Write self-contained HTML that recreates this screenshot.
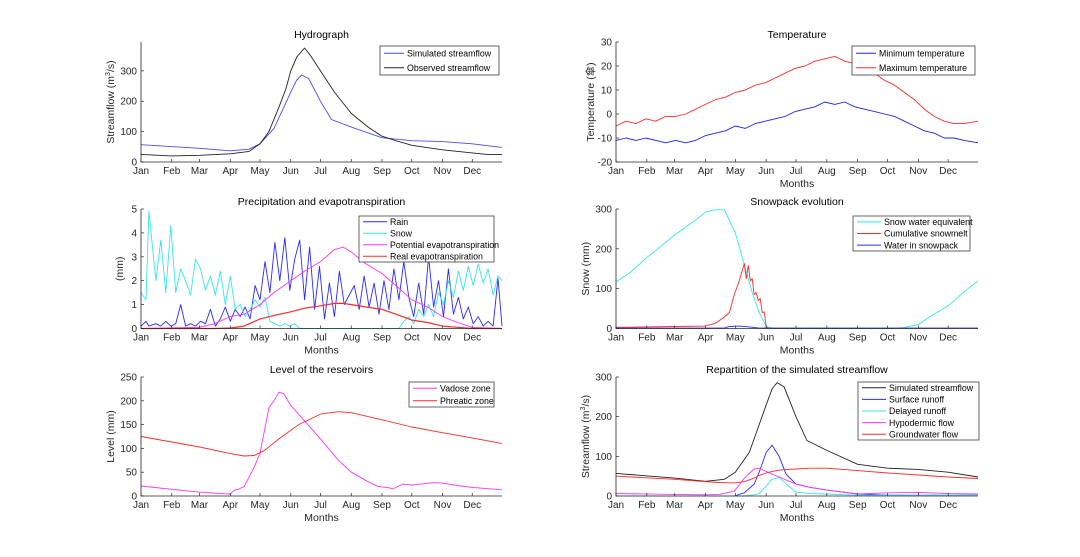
<!DOCTYPE html>
<html><head><meta charset="utf-8">
<style>
body{margin:0;background:#fff;}
svg{display:block;font-family:"Liberation Sans","Noto Sans CJK SC",sans-serif;}
</style></head>
<body>
<svg id="fig" width="1080" height="557" viewBox="0 0 1080 557"></svg>
<script>
// ---------- data ----------
const monthNames=["Jan","Feb","Mar","Apr","May","Jun","Jul","Aug","Sep","Oct","Nov","Dec"];
const monthDays=[1,32,60,91,121,152,182,213,244,274,305,335];

const simDays=[1,60,91,110,121,135,145,152,158,163,170,182,193,213,244,274,305,335,365];
const simVals=[57,45,37,42,60,110,180,230,270,286,275,200,140,115,80,70,67,60,48];
const obsDays=[1,32,60,91,110,121,130,140,147,152,158,163,166,172,182,196,213,230,244,258,274,305,335,350,365];
const obsVals=[25,20,22,27,35,60,100,180,240,300,345,365,375,350,300,230,160,115,85,70,55,40,30,25,25];

const tDays=[1,11,21,31,41,51,61,71,81,91,101,111,121,131,141,151,161,171,181,191,201,211,221,231,241,251,261,271,281,291,301,311,321,331,341,351,365];
const tMin=[-11,-10,-11,-10,-11,-12,-11,-12,-11,-9,-8,-7,-5,-6,-4,-3,-2,-1,1,2,3,5,4,5,3,2,1,0,-1,-3,-5,-7,-8,-10,-10,-11,-12];
const tMax=[-5,-3,-4,-2,-3,-1,-1,0,2,4,6,7,9,10,12,13,15,17,19,20,22,23,24,22,21,19,17,14,12,9,6,2,-1,-3,-4,-4,-3];

const pDays=[1,6,9,16,21,26,31,36,41,46,51,56,61,66,71,76,81,86,91,96,101,106,111,116,121,126,131,136,141,146,151,156,161,166,171,176,181,186,191,196,201,206,211,216,221,226,231,236,241,246,251,256,261,266,271,276,281,286,291,296,301,306,311,316,321,326,331,336,341,346,351,356,361,365];
const rainVals=[0.1,0.3,0.1,0.2,0.1,0.3,0.1,0.2,1.0,0.1,0.2,0.1,0.3,0.2,0.8,0.1,0.4,0.9,0.3,0.8,0.5,0.9,0.4,1.8,1.2,2.8,1.5,3.6,2.0,3.8,1.6,2.9,3.7,1.2,3.4,0.8,2.6,0.4,1.9,0.5,2.4,1.0,1.4,1.8,0.8,2.2,0.9,1.9,0.6,2.0,0.8,2.5,1.2,2.8,1.3,0.5,1.9,0.6,3.0,0.9,2.0,0.5,2.5,0.6,1.3,0.4,0.9,0.2,0.5,0.1,0.3,0.1,2.1,0.1];
const snowVals=[1.5,1.2,4.9,2.0,3.7,1.5,4.3,1.5,2.5,2.0,1.4,2.9,2.5,1.6,2.2,1.4,2.4,1.0,2.2,0.8,1.0,0.5,0.8,1.2,0.9,1.3,0.3,0.2,0.1,0.2,0.1,0.2,0,0,0,0,0,0,0,0,0,0,0,0,0,0,0,0,0,0,0,0,0,0.3,0.5,0.2,0.8,0.5,1.0,0.5,1.5,1.0,2.0,1.3,2.4,1.6,2.6,1.8,2.7,1.9,2.5,1.4,2.2,2.0];
const etDays=[1,60,75,91,105,121,135,152,166,182,196,205,213,228,244,258,274,290,305,320,335,365];
const petVals=[0,0.05,0.2,0.5,0.6,1.0,1.5,2.0,2.4,2.8,3.3,3.4,3.2,2.7,2.3,1.8,1.2,0.9,0.5,0.25,0.05,0];
const retVals=[0,0,0,0.02,0.1,0.4,0.55,0.7,0.85,0.95,1.05,1.05,1.0,0.9,0.8,0.6,0.35,0.25,0.1,0.05,0,0];

const swDays=[1,15,32,60,80,91,100,110,121,130,138,145,152,160,278,290,305,320,335,350,365];
const sweVals=[117,140,178,235,270,292,298,298,240,160,90,40,5,0,0,2,10,35,57,90,120];
const meltDays=[1,60,90,100,108,115,120,125,130,132,134,136,138,140,142,144,146,148,150,152,154];
const meltVals=[3,5,6,12,25,40,85,120,163,125,158,120,125,85,90,70,75,40,42,5,0];
const wisDays=[1,110,115,125,135,145,365];
const wisVals=[1,1,5,6,4,1,1];

const resDays=[1,32,60,91,95,100,105,115,121,130,135,140,145,152,165,182,200,213,230,240,250,255,265,274,295,305,320,335,365];
const vadVals=[21,14,8,4,12,15,20,60,90,185,200,218,215,190,160,120,75,50,30,20,18,15,25,23,28,27,22,18,13];
const phrDays=[1,60,91,105,115,125,140,160,182,200,213,244,274,305,335,365];
const phrVals=[125,103,89,84,85,95,120,150,172,177,175,160,145,133,122,110];

const repDays=[1,60,91,105,120,130,140,145,152,158,165,172,182,196,213,244,274,305,335,365];
const surfVals=[0,0,0,0,0,8,30,60,110,128,100,55,30,22,15,5,2,2,2,2];
const delVals=[0,0,0,0,0,0,3,6,25,42,47,30,10,6,5,2,2,2,2,2];
const hypVals=[6,4,3,4,12,45,68,70,62,55,48,40,30,22,15,5,8,9,6,5];
const gwVals=[50,42,36,34,33,36,45,52,58,62,65,67,68,70,70,64,58,53,48,44];

// ---------- drawing ----------
const NS="http://www.w3.org/2000/svg";
const svg=document.getElementById("fig");
function mk(tag,attrs,parent){const e=document.createElementNS(NS,tag);for(const k in attrs)e.setAttribute(k,attrs[k]);(parent||svg).appendChild(e);return e;}
const AX="#262626";

function panel(o){
  const g=mk("g",{});
  
  
  const {x0,x1,y0,y1,ymin,ymax}=o;
  const sx=d=>x0+(d-1)/364*(x1-x0);
  const sy=v=>y1-(v-ymin)/(ymax-ymin)*(y1-y0);
  o.series.forEach(s=>{
    const pts=s.days.map((d,i)=>sx(d).toFixed(1)+","+sy(s.vals[i]).toFixed(1)).join(" ");
    const pl=mk("polyline",{points:pts,fill:"none",stroke:s.color,"stroke-width":s.w||0.9,"stroke-linejoin":"round"},g);
    
    
  });
  const ax=mk("path",{d:`M${x0},${y0}V${y1}H${x1}`,fill:"none",stroke:AX,"stroke-width":0.8},g);
  
  
  monthDays.forEach((d,i)=>{
    const x=sx(d);
    mk("line",{x1:x,x2:x,y1:y1,y2:y1-3,stroke:AX,"stroke-width":0.7},g);
    const t=mk("text",{x:x,y:y1+12,"font-size":10,fill:AX,"text-anchor":"middle"},g);
    t.textContent=monthNames[i];
    
    
  });
  o.yticks.forEach(v=>{
    const y=sy(v);
    mk("line",{x1:x0,x2:x0+3,y1:y,y2:y,stroke:AX,"stroke-width":0.7},g);
    const t=mk("text",{x:x0-4,y:y+3.5,"font-size":10,fill:AX,"text-anchor":"end"},g);
    t.textContent=v;
    
    
  });
  const tt=mk("text",{x:(x0+x1)/2,y:y0-4,"font-size":10.5,fill:"#000","text-anchor":"middle"},g);
  tt.textContent=o.title;
  
  
  if(o.xlabel){const t=mk("text",{x:(x0+x1)/2,y:y1+25,"font-size":10.5,fill:AX,"text-anchor":"middle"},g);t.textContent="Months";
    
    }
  const yl=mk("text",{x:0,y:0,"font-size":10.5,fill:AX,"text-anchor":"middle",transform:`translate(${x0-o.ylOff},${(y0+y1)/2}) rotate(-90)`},g);
  yl.innerHTML=o.ylabel;
  
  
  const L=o.legend;
  const lg=mk("g",{},g);
  
  
  mk("rect",{x:L.x,y:L.y,width:L.w,height:L.h,fill:"#fff",stroke:AX,"stroke-width":0.7},lg);
  const step=L.h/o.series.length;
  o.series.forEach((s,i)=>{
    const cy=L.y+step*(i+0.5);
    mk("line",{x1:L.x+4,x2:L.x+L.lw,y1:cy,y2:cy,stroke:s.color,"stroke-width":1},lg);
    const t=mk("text",{x:L.x+L.lw+3,y:cy+3.2,"font-size":8.8,fill:"#000"},lg);
    t.textContent=s.label;
    
    
  });
}

const LX0=141,LX1=502,RX0=616,RX1=978;
const R1=[42,162],R2=[209,328.5],R3=[377,496];

panel({name:"hydrograph-chart",title:"Hydrograph",x0:LX0,x1:LX1,y0:R1[0],y1:R1[1],ymin:0,ymax:395,yticks:[0,100,200,300],ylOff:27,
  ylabel:'Streamflow (m<tspan dy="-4" font-size="7">3</tspan><tspan dy="4">/s)</tspan>',xlabel:false,
  legend:{x:380,y:46,w:119,h:29,lw:24},
  series:[{id:"simulated-streamflow-line",label:"Simulated streamflow",color:"#4a4aff",days:simDays,vals:simVals},
          {id:"observed-streamflow-line",label:"Observed streamflow",color:"#222",days:obsDays,vals:obsVals}]});

panel({name:"temperature-chart",title:"Temperature",x0:RX0,x1:RX1,y0:R1[0],y1:R1[1],ymin:-20,ymax:30,yticks:[-20,-10,0,10,20,30],ylOff:22,
  ylabel:'Temperature (傘)',xlabel:true,
  legend:{x:852,y:46,w:123,h:29,lw:24},
  series:[{id:"min-temperature-line",label:"Minimum temperature",color:"#2020ff",days:tDays,vals:tMin},
          {id:"max-temperature-line",label:"Maximum temperature",color:"#ff2a2a",days:tDays,vals:tMax}]});

panel({name:"precipitation-chart",title:"Precipitation and evapotranspiration",x0:LX0,x1:LX1,y0:R2[0],y1:R2[1],ymin:0,ymax:5,yticks:[0,1,2,3,4,5],ylOff:18,
  ylabel:'(mm)',xlabel:true,
  legend:{x:359,y:216,w:135,h:46,lw:28},
  series:[{id:"rain-line",label:"Rain",color:"#2a2aff",days:pDays,vals:rainVals},
          {id:"snow-line",label:"Snow",color:"#33e8e8",days:pDays,vals:snowVals},
          {id:"potential-et-line",label:"Potential evapotranspiration",color:"#ff33ff",days:etDays,vals:petVals},
          {id:"real-et-line",label:"Real evapotranspiration",color:"#ff2a2a",days:etDays,vals:retVals,w:1.2}]});

panel({name:"snowpack-chart",title:"Snowpack evolution",x0:RX0,x1:RX1,y0:R2[0],y1:R2[1],ymin:0,ymax:300,yticks:[0,100,200,300],ylOff:27,
  ylabel:'Snow (mm)',xlabel:true,
  legend:{x:853,y:216,w:117,h:35,lw:28},
  series:[{id:"swe-line",label:"Snow water equivalent",color:"#33e8e8",days:swDays,vals:sweVals},
          {id:"snowmelt-line",label:"Cumulative snowmelt",color:"#ff2a2a",days:meltDays,vals:meltVals},
          {id:"water-in-snowpack-line",label:"Water in snowpack",color:"#2a2aff",days:wisDays,vals:wisVals}]});

panel({name:"reservoirs-chart",title:"Level of the reservoirs",x0:LX0,x1:LX1,y0:R3[0],y1:R3[1],ymin:0,ymax:250,yticks:[0,50,100,150,200,250],ylOff:27,
  ylabel:'Level (mm)',xlabel:true,
  legend:{x:409,y:382,w:85,h:25,lw:28},
  series:[{id:"vadose-zone-line",label:"Vadose zone",color:"#ff33ff",days:resDays,vals:vadVals},
          {id:"phreatic-zone-line",label:"Phreatic zone",color:"#ff2a2a",days:phrDays,vals:phrVals}]});

panel({name:"repartition-chart",title:"Repartition of the simulated streamflow",x0:RX0,x1:RX1,y0:R3[0],y1:R3[1],ymin:0,ymax:300,yticks:[0,100,200,300],ylOff:27,
  ylabel:'Streamflow (m<tspan dy="-4" font-size="7">3</tspan><tspan dy="4">/s)</tspan>',xlabel:true,
  legend:{x:858,y:382,w:121,h:58,lw:28},
  series:[{id:"rep-simulated-line",label:"Simulated streamflow",color:"#222",days:simDays,vals:simVals},
          {id:"surface-runoff-line",label:"Surface runoff",color:"#2a2aff",days:repDays,vals:surfVals},
          {id:"delayed-runoff-line",label:"Delayed runoff",color:"#33e8e8",days:repDays,vals:delVals},
          {id:"hypodermic-flow-line",label:"Hypodermic flow",color:"#ff33ff",days:repDays,vals:hypVals},
          {id:"groundwater-flow-line",label:"Groundwater flow",color:"#ff2a2a",days:repDays,vals:gwVals}]});
</script>
</body></html>
